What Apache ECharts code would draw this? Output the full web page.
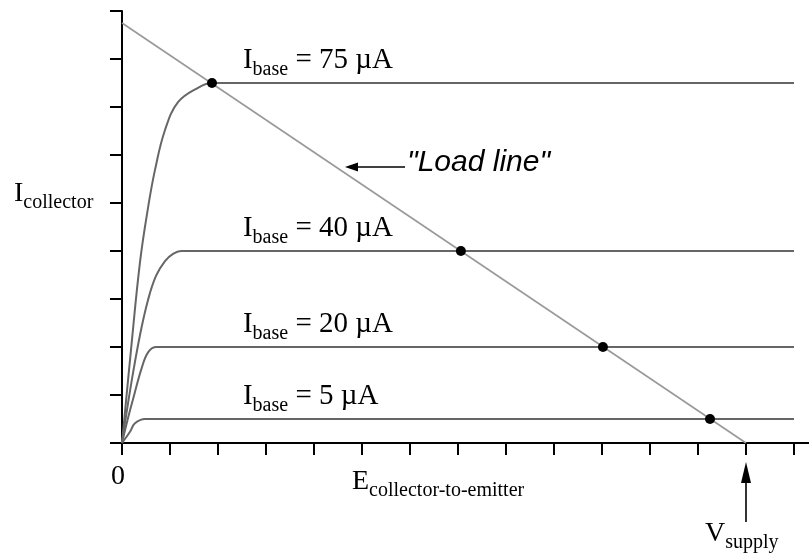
<!DOCTYPE html>
<html>
<head>
<meta charset="utf-8">
<script src="https://cdn.jsdelivr.net/npm/echarts@6/dist/echarts.min.js"></script>
<style>
html, body { margin: 0; padding: 0; background: #fff; }
#chart { width: 809px; height: 556px; }
</style>
</head>
<body>
<div id="chart"></div>
<script>
// one unit = one tick on either axis
var xTicks = [0, 1, 2, 3, 4, 5, 6, 7, 8, 9, 10, 11, 12, 13, 14];
var xLabels = [0];
var vSupply = 13;

// collector curves
var curve75 = [[0, 0], [0.1875, 1.94], [0.375, 3.77], [0.542, 4.9], [0.6875, 5.69], [0.896, 6.52], [1.167, 7.1], [1.583, 7.4], [1.875, 7.5], [14, 7.5]];
var curve40 = [[0, 0], [0.1875, 1.21], [0.375, 2.25], [0.542, 2.98], [0.708, 3.48], [0.896, 3.79], [1.0625, 3.94], [1.23, 4], [14, 4]];
var curve20 = [[0, 0], [0.118, 0.49], [0.235, 0.93], [0.41, 1.56], [0.55, 1.9], [0.72, 2], [14, 2]];
var curve5 = [[0, 0], [0.167, 0.235], [0.27, 0.41], [0.48, 0.5], [14, 0.5]];
var loadLine = [[0, 8.75], [vSupply, 0]];
var opPoints = [[1.875, 7.5], [7.06, 4], [10.02, 2], [12.25, 0.5]];
var baseCurrents = ['75', '40', '20', '5'];
var baseLevels = [7.5, 4, 2, 0.5];

var serif = "'Liberation Serif', 'DejaVu Serif', serif";
var chart = echarts.init(document.getElementById('chart'), null, { renderer: 'canvas' });

function curve(data) {
	return {
		type: 'line',
		data: data,
		smooth: 0.4,
		showSymbol: false,
		silent: true,
		lineStyle: { color: '#666', width: 2 },
		z: 3
	};
}

chart.setOption({
	animation: false,
	grid: { left: 122, right: 0, top: 11, bottom: 113, outerBoundsMode: 'none' },
	xAxis: {
		type: 'value',
		min: 0,
		max: 14.3125,
		splitLine: { show: false },
		axisLine: { show: true, lineStyle: { color: '#000', width: 2 } },
		axisTick: { show: true, length: 12, lineStyle: { color: '#000', width: 2 }, customValues: xTicks },
		axisLabel: { customValues: xLabels, margin: 20, padding: [0, 8, 0, 0], fontFamily: serif, fontSize: 28, color: '#000' }
	},
	yAxis: {
		type: 'value',
		min: 0,
		max: 9,
		interval: 1,
		splitLine: { show: false },
		axisLine: { show: true, lineStyle: { color: '#000', width: 2 } },
		axisTick: { show: true, length: 12, lineStyle: { color: '#000', width: 2 } },
		axisLabel: { show: false }
	},
	series: [
		{
			type: 'line',
			data: loadLine,
			showSymbol: false,
			silent: true,
			lineStyle: { color: '#999', width: 1.6 },
			z: 2
		},
		curve(curve75),
		curve(curve40),
		curve(curve20),
		curve(curve5),
		{
			type: 'scatter',
			data: opPoints,
			symbolSize: 10,
			itemStyle: { color: '#000', opacity: 1 },
			silent: true,
			z: 5
		}
	]
});

// text with a subscript, placed by its baseline
function subText(left, baseline, main, sub, rest, size) {
	size = size || 28;
	return {
		type: 'text',
		x: left,
		y: baseline - size * 0.34,
		silent: true,
		style: {
			text: '{m|' + main + '}{s|' + sub + '}' + (rest ? '{m|' + rest + '}' : ''),
			verticalAlign: 'middle',
			align: 'left',
			rich: {
				m: { fontFamily: serif, fontSize: size, fill: '#000', verticalAlign: 'middle' },
				s: { fontFamily: serif, fontSize: 20, fill: '#000', verticalAlign: 'middle', padding: [size - 9, 0, 0, 0] }
			}
		}
	};
}

var graphics = [];
baseCurrents.forEach(function (c, i) {
	var p = chart.convertToPixel({ gridIndex: 0 }, [2.52, baseLevels[i]]);
	graphics.push(subText(p[0], p[1] - 13, 'I', 'base', ' = ' + c + ' \u00b5A', 29));
});
graphics.push(subText(14, 203, 'I', 'collector'));
graphics.push(subText(352, 491, 'E', 'collector-to-emitter'));

var vs = chart.convertToPixel({ gridIndex: 0 }, [vSupply, 0]);
graphics.push(subText(vs[0] - 41, 543, 'V', 'supply'));
graphics.push({
	type: 'line', silent: true,
	shape: { x1: vs[0], y1: vs[1] + 79, x2: vs[0], y2: vs[1] + 36 },
	style: { stroke: '#000', lineWidth: 1.6 }
});
graphics.push({
	type: 'polygon', silent: true,
	shape: { points: [[vs[0], vs[1] + 19], [vs[0] - 5, vs[1] + 40], [vs[0] + 5, vs[1] + 40]] },
	style: { fill: '#000' }
});

// "Load line" pointer
graphics.push({
	type: 'line', silent: true,
	shape: { x1: 405, y1: 167, x2: 352, y2: 167 },
	style: { stroke: '#000', lineWidth: 1.6 }
});
graphics.push({
	type: 'polygon', silent: true,
	shape: { points: [[345, 167], [358, 162.5], [358, 171.5]] },
	style: { fill: '#000' }
});
graphics.push({
	type: 'text', x: 407, y: 162.5, silent: true,
	style: {
		text: '"Load line"',
		fontFamily: "'Liberation Sans', Arial, sans-serif",
		fontStyle: 'italic',
		fontSize: 30,
		fill: '#000',
		verticalAlign: 'middle',
		align: 'left'
	}
});

chart.setOption({ graphic: graphics });
</script>
</body>
</html>
